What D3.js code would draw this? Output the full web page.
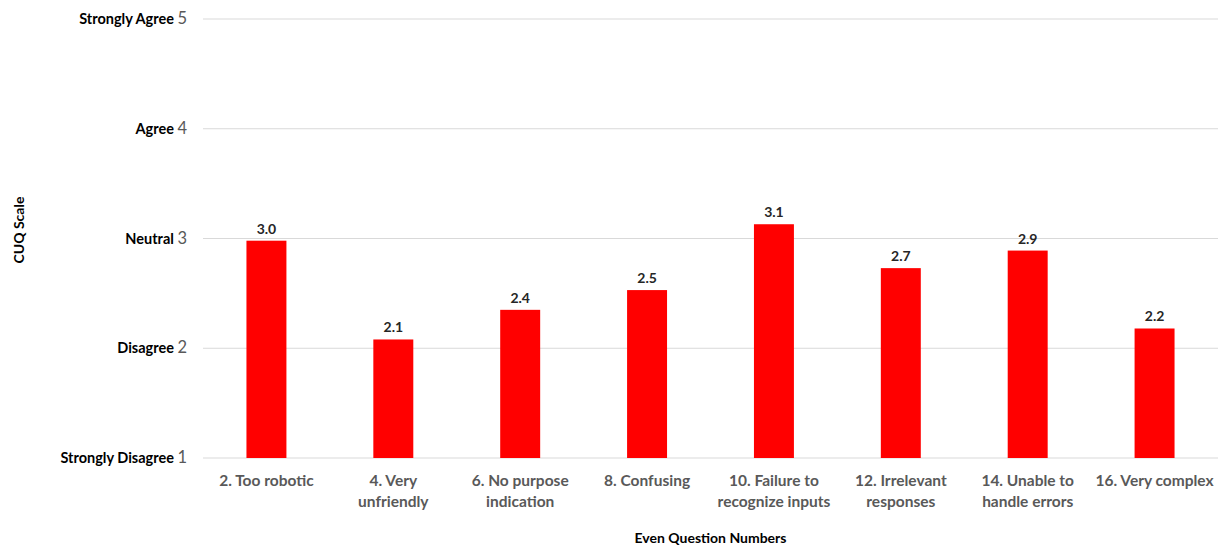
<!DOCTYPE html>
<html>
<head>
<meta charset="utf-8">
<script src="https://cdn.jsdelivr.net/npm/d3@7"></script>
<style>
  body { margin: 0; background: #fff; }
  svg text { font-family: Lato, "Open Sans", sans-serif; }
</style>
</head>
<body>
<div id="chart"></div>
<script>
// data
var categories = ["2. Too robotic", "4. Very\nunfriendly", "6. No purpose\nindication", "8. Confusing",
  "10. Failure to\nrecognize inputs", "12. Irrelevant\nresponses", "14. Unable to\nhandle errors", "16. Very complex"];
var scores = [2.98, 2.08, 2.35, 2.53, 3.13, 2.73, 2.89, 2.18];
var scaleTicks = [1, 2, 3, 4, 5];
var scaleNames = ["Strongly Disagree", "Disagree", "Neutral", "Agree", "Strongly Agree"];

var W = 1225, H = 550;
var margin = {top: 19, right: 7, bottom: 92, left: 203};

var svg = d3.select("#chart").append("svg")
  .attr("width", W).attr("height", H);

var x = d3.scaleBand()
  .domain(categories)
  .range([margin.left, W - margin.right])
  .paddingInner(0.685).paddingOuter(0.3425);

var y = d3.scaleLinear()
  .domain([1, 5])
  .range([H - margin.bottom, margin.top]);

// gridlines
svg.append("g").selectAll("line")
  .data(scaleTicks).enter().append("line")
    .attr("x1", margin.left).attr("x2", W - margin.right)
    .attr("y1", function(d){ return y(d); })
    .attr("y2", function(d){ return y(d); })
    .attr("stroke", "#d9d9d9").attr("stroke-width", 1);

// y axis labels
var yl = svg.append("g").selectAll("text")
  .data(scaleTicks).enter().append("text")
    .attr("x", 187)
    .attr("y", function(d){ return y(d) + 5; })
    .attr("text-anchor", "end")
    .style("font-size", "14.5px");
yl.append("tspan")
  .attr("font-weight", "bold").attr("fill", "#000")
  .text(function(d, i){ return scaleNames[i] + " "; });
yl.append("tspan")
  .attr("fill", "#595959").style("font-size", "16.5px")
  .text(function(d){ return d; });

// bars
svg.append("g").selectAll("rect")
  .data(scores).enter().append("rect")
    .attr("x", function(d, i){ return x(categories[i]); })
    .attr("width", x.bandwidth())
    .attr("y", function(d){ return y(d); })
    .attr("height", function(d){ return y(1) - y(d); })
    .attr("fill", "#ff0000");

// data labels
svg.append("g").selectAll("text")
  .data(scores).enter().append("text")
    .attr("x", function(d, i){ return x(categories[i]) + x.bandwidth() / 2; })
    .attr("y", function(d){ return y(d) - 7; })
    .attr("text-anchor", "middle")
    .attr("fill", "#262626")
    .style("font-size", "14px").style("font-weight", "bold")
    .text(function(d){ return d.toFixed(1); });

// category labels
var xl = svg.append("g").selectAll("text")
  .data(categories).enter().append("text")
    .attr("text-anchor", "middle")
    .attr("fill", "#595959")
    .style("font-size", "15.5px").style("font-weight", "bold")
    .attr("transform", function(d){ return "translate(" + (x(d) + x.bandwidth() / 2) + "," + (y(1) + 28) + ")"; });
xl.selectAll("tspan")
  .data(function(d){ return d.split("\n"); }).enter().append("tspan")
    .attr("x", 0)
    .attr("dy", function(d, i){ return i ? 21 : 0; })
    .text(function(d){ return d; });

// axis titles
svg.append("text")
  .attr("x", (margin.left + W - margin.right) / 2)
  .attr("y", 543)
  .attr("text-anchor", "middle")
  .style("font-size", "14px").style("font-weight", "bold")
  .text("Even Question Numbers");

svg.append("text")
  .attr("transform", "translate(24,230) rotate(-90)")
  .attr("text-anchor", "middle")
  .style("font-size", "14px").style("font-weight", "bold")
  .text("CUQ Scale");
</script>
</body>
</html>
